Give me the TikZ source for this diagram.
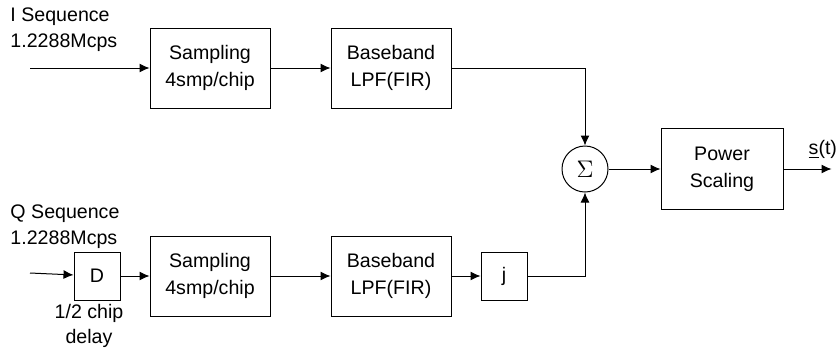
\documentclass[tikz,border=0pt]{standalone}
\usepackage{fontspec}
\setmainfont{Liberation Sans}
\usetikzlibrary{positioning,arrows.meta}

\begin{document}
\begin{tikzpicture}[node distance={30pt}, line width=0.5pt, >={Latex[length=5pt,width=4.5pt]}]
	\tikzstyle{blk}=[rectangle, draw, minimum width=60pt, minimum height=40pt, align=center, font=\fontsize{9.8}{13.5}\selectfont]
	\tikzstyle{sm}=[rectangle, draw, minimum width=23pt, minimum height=24pt, font=\fontsize{9.8}{13.5}\selectfont]
	\tikzstyle{lbl}=[inner sep=0pt, align=left, font=\fontsize{9.8}{13}\selectfont]

	\useasboundingbox (0,0) rectangle (420pt,-175pt);

	% I branch
	\node[blk] (samp1) at (105pt,-34pt) {Sampling\\4smp/chip};
	\node[blk] (base1) [right=30pt of samp1] {Baseband\\LPF(FIR)};
	\coordinate (iin) at (15pt,-34pt);
	\node[lbl, anchor=west] (iseq) at (5pt,-15pt) {I Sequence\\1.2288Mcps};

	% Q branch
	\node[blk] (samp2) [below=63.5pt of samp1] {Sampling\\4smp/chip};
	\node[blk] (base2) [right=30pt of samp2] {Baseband\\LPF(FIR)};
	\node[sm] (dly) [left=14.5pt of samp2] {D};
	\node[sm] (jmul) [right=14.5pt of base2] {j};
	\coordinate (qin) at (15pt,-136.5pt);
	\node[lbl, anchor=west] (qseq) at (5pt,-113.5pt) {Q Sequence\\1.2288Mcps};
	\node[lbl, align=center, font=\fontsize{9.8}{12.5}\selectfont] (dlbl) [below=1.5pt of dly, xshift=-4pt] {1/2 chip\\delay};

	% sum and output
	\node[circle, draw, minimum size=23pt, inner sep=0pt] (sum) at (292.5pt,-84.5pt) {\large$\Sigma$};
	\node[blk, minimum width=61pt, minimum height=40.5pt] (pwr) [right=26pt of sum] {Power\\Scaling};
	\coordinate[right=24pt of pwr] (out);
	\node[lbl] (st) [above left=5pt and -3pt of out] {\underline{s}(t)};

	\foreach \from/\to in {iin/samp1,samp1/base1,qin/dly,dly/samp2,samp2/base2,base2/jmul,sum/pwr,pwr/out}
	\draw [->] (\from) -- (\to);
	\draw [->] (base1) -| (sum);
	\draw [->] (jmul) -| (sum);
\end{tikzpicture}
\end{document}
